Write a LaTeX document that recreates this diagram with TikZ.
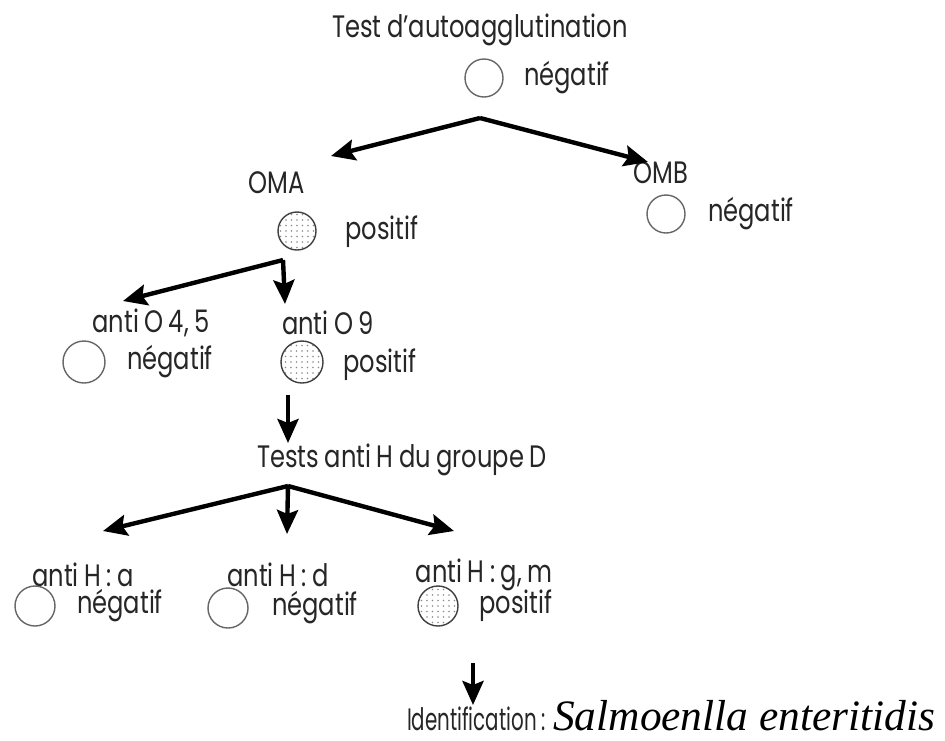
\documentclass[tikz,border=0pt]{standalone}
\usepackage{fontspec}
\setmainfont{Poppins}[FakeStretch=0.78, WordSpace=0.85]
\newfontfamily\narrowfont{Poppins}[FakeStretch=0.64, WordSpace=0.9]
\newfontfamily\speciesfont{Liberation Serif}
\usetikzlibrary{arrows.meta}

\tikzset{
  lbl/.style={font=\fontsize{31}{34}\selectfont, inner sep=0pt, text=black!85},
  negdisc/.style={circle, draw=black!60, line width=1.4pt, minimum size=38pt, inner sep=0pt},
  posdisc/.style={negdisc, draw=black!75, path picture={
      \foreach \i in {-3,...,3}
        \foreach \j in {-3,...,3}
          \fill[black!45] ([shift={(\i*5.5pt,\j*5.5pt)}]path picture bounding box.center) circle (0.9pt);
    }},
  arr/.style={line width=4.4pt, -{Stealth[length=24pt,width=21pt,inset=4pt]}, line join=round}
}

\begin{document}
\begin{tikzpicture}[x=1pt,y=-1pt]
\useasboundingbox[fill=white] (0,0) rectangle (945,740);

% autoagglutination
\node[lbl] (t0) at (480,30) {Test d'autoagglutination};
\node[negdisc] (c0) at (484,78) {};
\node[lbl] (l0) at (567,78) {négatif};
\coordinate (v0) at (480,118);
\coordinate (tOMA) at (331,156);
\coordinate (tOMB) at (648,162);

% OMA / OMB
\node[lbl] (oma) at (277,183) {OMA};
\node[lbl] (omb) at (661,173) {OMB};
\node[posdisc] (c1) at (297,231) {};
\node[lbl] (l1) at (382,232) {positif};
\node[negdisc] (c2) at (666,214) {};
\node[lbl] (l2) at (751,214) {négatif};

% anti O
\coordinate (v1) at (283,260);
\coordinate (tO45) at (123,301);
\coordinate (tO9) at (285,304);
\node[lbl] (o45) at (151,323) {anti O 4, 5};
\node[lbl] (o9) at (328,323) {anti O 9};
\node[negdisc, minimum size=42pt] (c3) at (84,362) {};
\node[lbl] (l3) at (170,362) {négatif};
\node[posdisc, minimum size=42pt] (c4) at (302,362) {};
\node[lbl] (l4) at (380,365) {positif};

% anti H group D
\coordinate (s2) at (288,395);
\coordinate (tH) at (288,443);
\node[lbl] (th) at (402,460) {Tests anti H du groupe D};
\coordinate (v2) at (288,486);
\coordinate (tHa) at (103,531);
\coordinate (tHd) at (287,534);
\coordinate (tHg) at (454,531);
\node[lbl] (ha) at (83,575) {anti H : a};
\node[lbl] (hd) at (278,575) {anti H : d};
\node[lbl] (hg) at (484,575) {anti H : g, m};
\node[negdisc, minimum size=40pt] (c5) at (35,606) {};
\node[lbl] (l5) at (120,606) {négatif};
\node[negdisc, minimum size=40pt] (c6) at (228,608) {};
\node[lbl] (l6) at (315,608) {négatif};
\node[posdisc, minimum size=40pt] (c7) at (438,606) {};
\node[lbl] (l7) at (516,606) {positif};

% identification
\coordinate (s3) at (473,663);
\coordinate (tId) at (473,705);
\node[lbl, font=\narrowfont\fontsize{31}{34}\selectfont, anchor=east] (id) at (546,719) {Identification :};
\node[inner sep=0pt, anchor=west, font=\speciesfont\itshape\fontsize{43.4}{46}\selectfont] (sp) at (553,716) {Salmoenlla enteritidis};

% arrows
\draw[arr] (v0) -- (tOMA);
\draw[arr] (v0) -- (tOMB);
\draw[arr] (v1) -- (tO45);
\draw[arr] (v1) -- (tO9);
\draw[arr] (s2) -- (tH);
\draw[arr] (v2) -- (tHa);
\draw[arr] (v2) -- (tHd);
\draw[arr] (v2) -- (tHg);
\draw[arr] (s3) -- (tId);
\end{tikzpicture}
\end{document}
